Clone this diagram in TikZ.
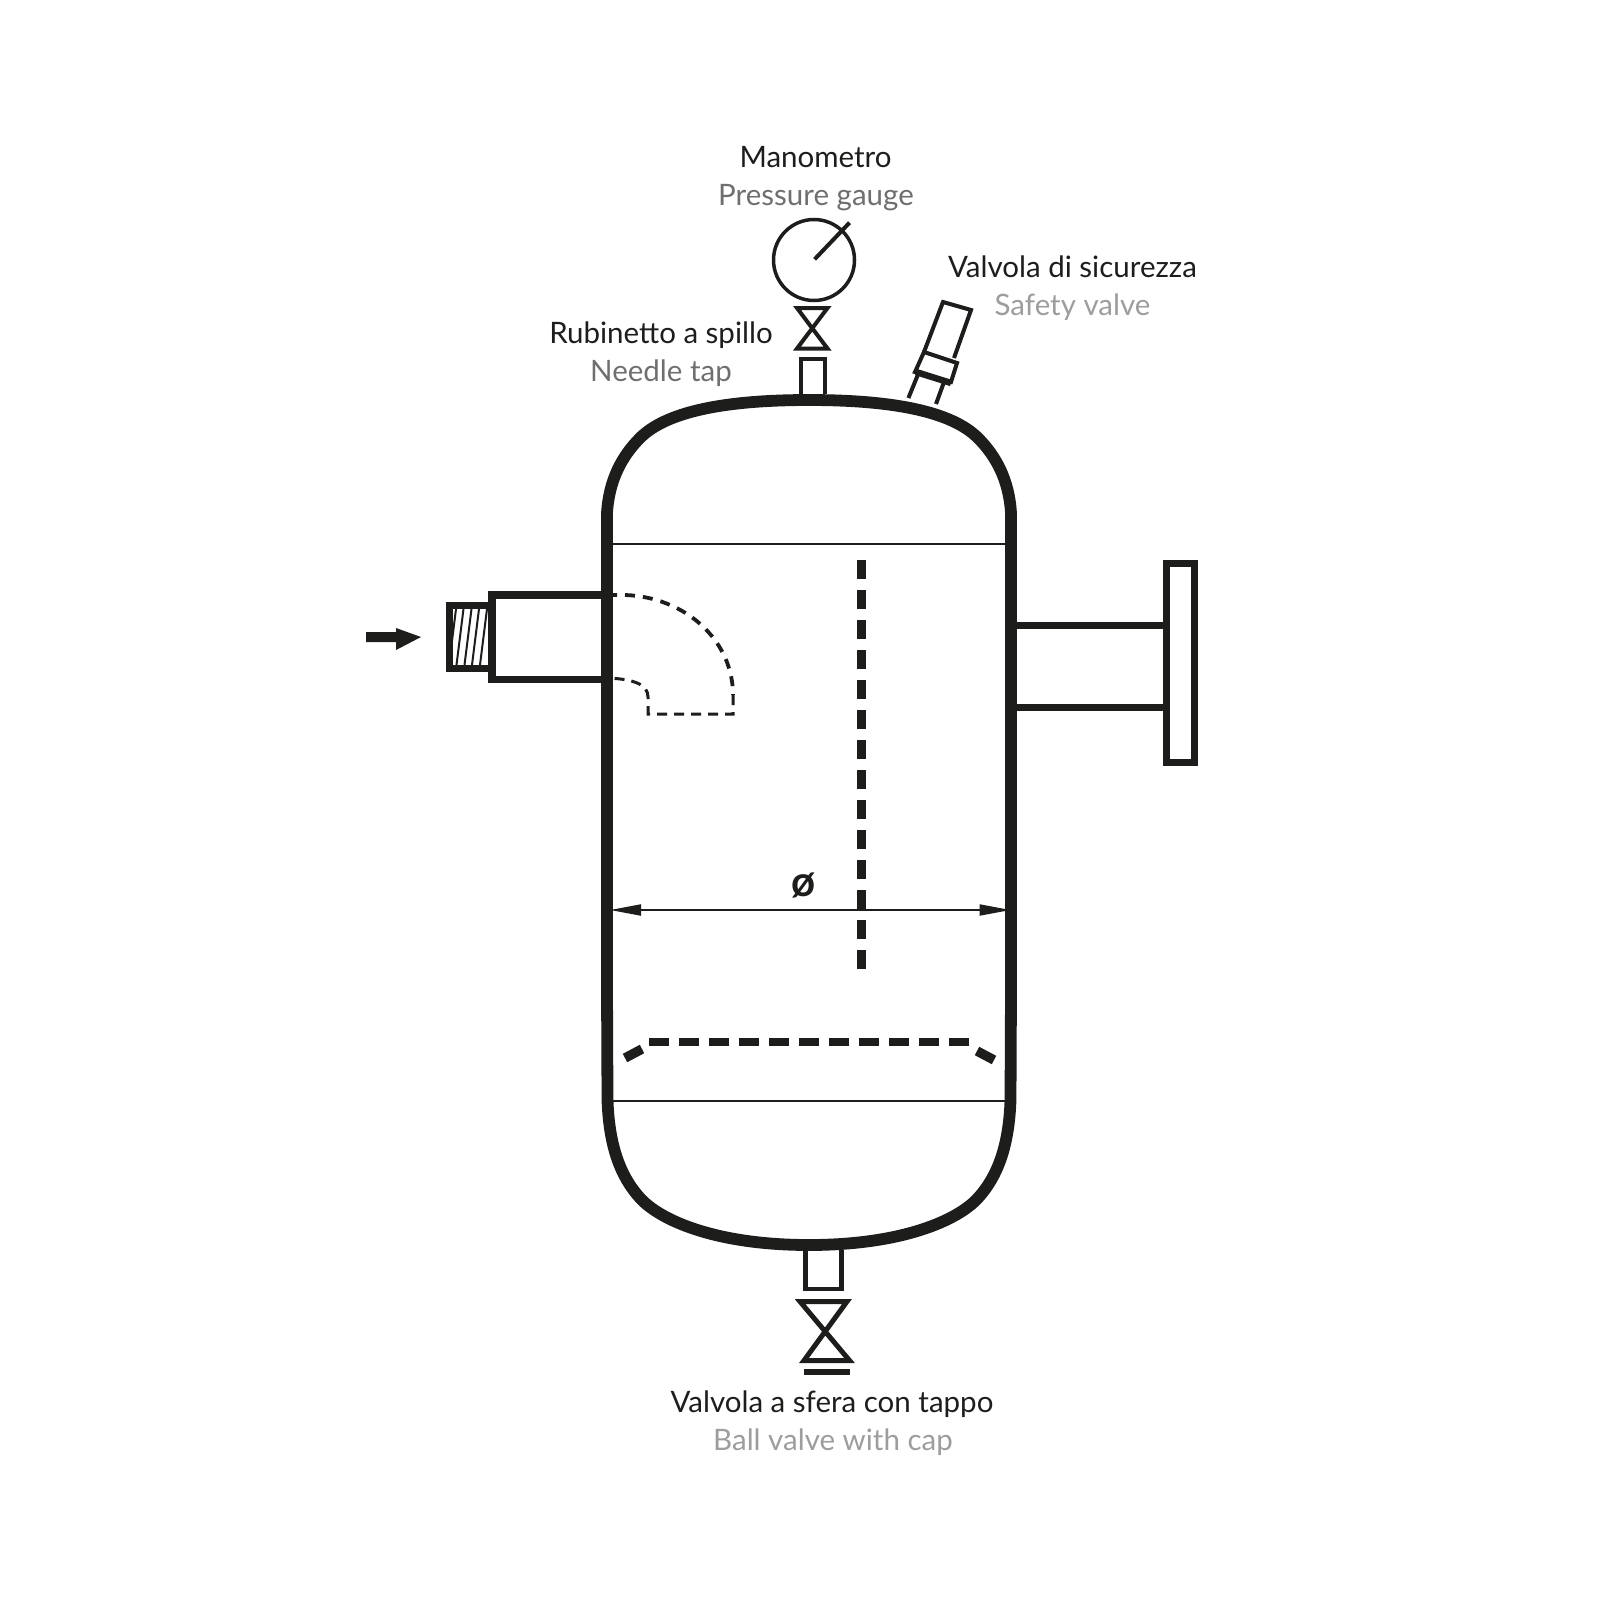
\documentclass[tikz,border=0pt]{standalone}
\usepackage{fontspec}
\setmainfont{Lato}
\usetikzlibrary{arrows.meta}
\definecolor{ink}{HTML}{1D1D1B}
\definecolor{midgrey}{HTML}{6F6F6E}
\definecolor{lightgrey}{HTML}{9D9D9C}
\tikzset{
  wall/.style={draw=ink,line width=11.8pt,line cap=butt,line join=round},
  part/.style={draw=ink,line width=7.5pt,line join=miter},
  thin part/.style={draw=ink,line width=4pt,line join=miter},
  hair/.style={draw=ink,line width=2pt},
  baffle/.style={draw=ink,line width=9.5pt,dash pattern=on 19pt off 11pt},
  plate/.style={draw=ink,line width=8.5pt,dash pattern=on 20pt off 10pt},
  elbow/.style={draw=ink,line width=3.8pt,dash pattern=on 10pt off 8pt},
  elbow low/.style={draw=ink,line width=3pt,dash pattern=on 10pt off 7pt},
  lab/.style={anchor=base,inner sep=0pt,font=\fontsize{29.5}{29.5}\selectfont},
  it/.style={lab,text=ink},
  en/.style={lab,text=midgrey},
  enl/.style={lab,text=lightgrey},
}
\begin{document}
\begin{tikzpicture}[x=1pt,y=-1pt]
\useasboundingbox (0,0) rectangle (1603,1603);
% vessel shell
\draw[wall] (607,1000) -- (607,513) .. controls (609,480) and (622,456) .. (640,438)
  .. controls (662,416) and (710,400) .. (809,400)
  .. controls (908,400) and (956,416) .. (978,438)
  .. controls (996,456) and (1009,480) .. (1011,513) -- (1011,1000);
\draw[wall] (607,990) -- (607.5,1100) .. controls (609,1145) and (620,1176) .. (640,1198)
  .. controls (660,1220) and (715,1245) .. (809,1245)
  .. controls (903,1245) and (958,1220) .. (978,1198)
  .. controls (998,1176) and (1009,1145) .. (1010.5,1100) -- (1011,990);
% seams
\draw[hair] (612,544) -- (1006,544);
\draw[hair] (612,1101) -- (1006,1101);
% internals
\draw[baffle] (861.5,560) -- (861.5,970);
\draw[plate] (649,1042) -- (970,1042);
\draw[draw=ink,line width=9.5pt] (625,1058) -- (642,1049);
\draw[draw=ink,line width=9.5pt] (977,1051) -- (994,1060);
% dimension
\coordinate (dl) at (610,910);
\coordinate (dr) at (1010.5,910);
\draw[hair,{Triangle[length=31pt,width=11pt]}-{Triangle[length=31pt,width=11pt]}] (dl) -- (dr);
\node[anchor=base,inner sep=0pt,text=ink,font=\fontsize{42}{42}\selectfont\bfseries] (dia) at (804,896) {ø};
% outlet
\draw[part,line width=7pt] (1017,625.5) -- (1163,625.5);
\draw[part,line width=7pt] (1017,707.5) -- (1163,707.5);
\draw[part,line width=7pt] (1166.5,563.5) rectangle (1194.5,762.5);
% inlet
\draw[part] (601,595) -- (492,595) -- (492,679.5) -- (601,679.5);
\draw[elbow] (607,595) -- (625,595) .. controls (685,597) and (733,640) .. (733,695);
\draw[elbow low] (733,695) -- (733,714) -- (648,714) -- (648,697) .. controls (648,685) and (635,679) .. (607,678);
\begin{scope}
\clip (453,609) rectangle (488,665);
\foreach \t in {456,463.5,471.5,479,487}
  \draw[ink,line width=2pt] (\t,609) -- ({\t-7},665);
\end{scope}
\draw[part] (488,605.5) -- (449.5,605.5) -- (449.5,668.5) -- (488,668.5);
% inlet arrow
\fill[ink] (366,632) -- (396,632) -- (396,628) -- (421,637) -- (396,650) -- (396,642) -- (366,642) -- cycle;
% gauge and needle tap
\draw[thin part,line width=3.5pt] (814,260) circle (40.5);
\draw[thin part] (814.6,259.3) -- (849.5,222.7);
\draw[thin part] (797,308) -- (827.5,308) -- (797,348.5) -- (827.5,348.5) -- cycle;
\draw[thin part,line width=4.8pt] (801,394) -- (801,359) -- (825,359) -- (825,394);
% safety valve
\draw[thin part] (924,352) -- (943,302) -- (971,310) -- (954,358);
\draw[thin part] (924,352) -- (957,363) -- (951,382) -- (915,372) -- cycle;
\draw[draw=ink,line width=6.5pt] (916,372) -- (951,383);
\draw[thin part] (918.6,373) -- (908.4,398);
\draw[thin part] (944,382) -- (936,404);
% ball valve
\draw[part,line width=4.5pt] (805.5,1250) -- (805.5,1289) -- (841.5,1289) -- (841.5,1250);
\draw[part,line width=5pt] (800,1301.5) -- (847,1301.5) -- (804,1360.5) -- (849.5,1360.5) -- cycle;
\draw[draw=ink,line width=6pt] (804,1372) -- (850,1372);
% labels
\node[it] (mano) at (815.5,167) {Manometro};
\node[en] (gauge) at (816,205) {Pressure gauge};
\node[it] (sic) at (1072.5,277) {Valvola di sicurezza};
\node[enl] (safe) at (1072.5,315) {Safety valve};
\node[it] (rub) at (661,343) {Rubinetto a spillo};
\node[en] (tap) at (661,381) {Needle tap};
\node[it] (sfera) at (832,1412) {Valvola a sfera con tappo};
\node[enl] (ball) at (833,1450) {Ball valve with cap};
\end{tikzpicture}
\end{document}
